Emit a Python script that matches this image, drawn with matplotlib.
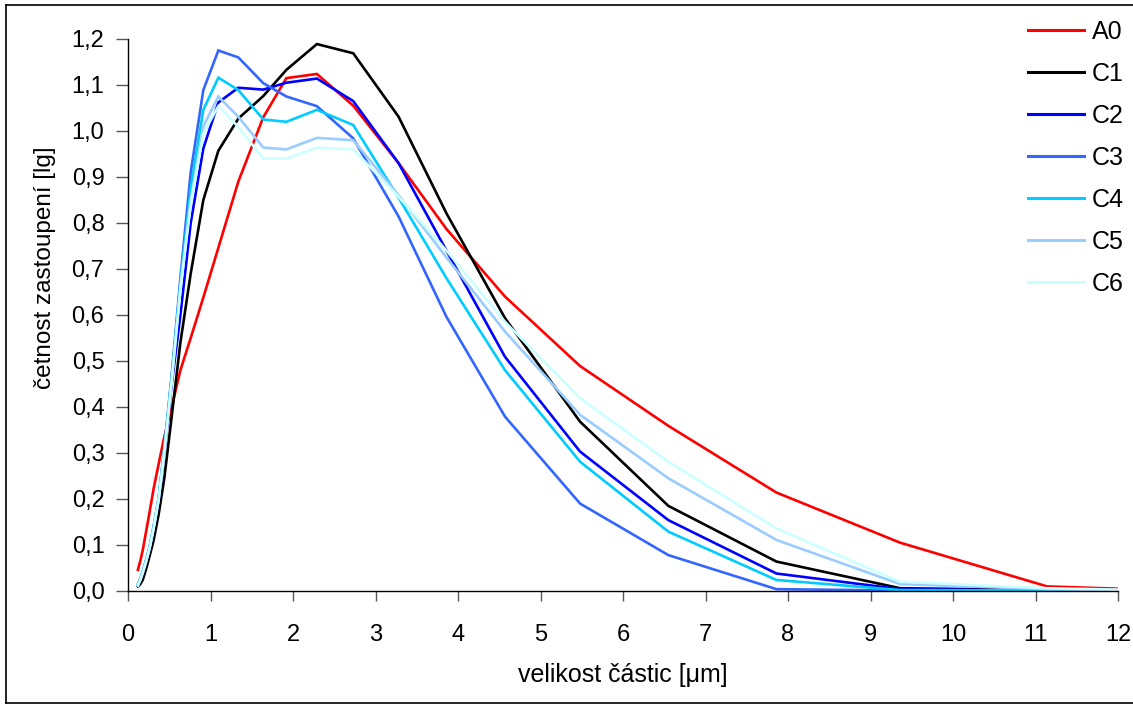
import matplotlib
matplotlib.use("Agg")
import matplotlib.pyplot as plt
from matplotlib.ticker import FuncFormatter, MultipleLocator
from matplotlib.lines import Line2D

plt.rcParams['font.family'] = ['Liberation Sans', 'DejaVu Sans']

# === Data ===
size_um = [0.12, 0.15, 0.18, 0.215, 0.26, 0.31, 0.37, 0.44, 0.53, 0.635, 0.76, 0.913,
           1.095, 1.337, 1.64, 1.92, 2.29, 2.73, 3.28, 3.86, 4.57, 5.48, 6.55, 7.86,
           9.36, 11.14, 12.0]

a0 = [0.046, 0.066, 0.09, 0.125, 0.17, 0.222, 0.275, 0.335, 0.40, 0.48, 0.55, 0.638,
      0.746, 0.89, 1.03, 1.115, 1.124, 1.055, 0.93, 0.787, 0.64, 0.489, 0.359, 0.214,
      0.105, 0.01, 0.005]
c1 = [0.01, 0.015, 0.025, 0.045, 0.075, 0.11, 0.165, 0.245, 0.38, 0.54, 0.69, 0.85,
      0.957, 1.027, 1.076, 1.133, 1.189, 1.169, 1.031, 0.821, 0.593, 0.368, 0.185, 0.064,
      0.006, 0.002, 0.001]
c2 = [0.013, 0.025, 0.04, 0.06, 0.09, 0.135, 0.195, 0.30, 0.45, 0.60, 0.80, 0.962,
      1.062, 1.094, 1.09, 1.105, 1.114, 1.065, 0.93, 0.74, 0.509, 0.303, 0.154, 0.038,
      0.004, 0.001, 0.0]
c3 = [0.015, 0.027, 0.043, 0.065, 0.095, 0.14, 0.2, 0.31, 0.47, 0.68, 0.91, 1.089,
      1.175, 1.16, 1.104, 1.075, 1.054, 0.984, 0.814, 0.596, 0.379, 0.19, 0.078, 0.004,
      0.001, 0.0, 0.0]
c4 = [0.014, 0.026, 0.042, 0.063, 0.093, 0.138, 0.2, 0.31, 0.465, 0.67, 0.875, 1.046,
      1.116, 1.089, 1.025, 1.02, 1.046, 1.013, 0.855, 0.68, 0.48, 0.281, 0.129, 0.024,
      0.002, 0.001, 0.0]
c5 = [0.013, 0.025, 0.041, 0.062, 0.092, 0.136, 0.198, 0.305, 0.46, 0.66, 0.85, 1.01,
      1.075, 1.031, 0.964, 0.96, 0.985, 0.98, 0.86, 0.725, 0.564, 0.383, 0.245, 0.111,
      0.015, 0.004, 0.002]
c6 = [0.012, 0.024, 0.04, 0.061, 0.091, 0.135, 0.196, 0.30, 0.455, 0.655, 0.84, 0.995,
      1.054, 1.009, 0.94, 0.94, 0.964, 0.96, 0.857, 0.74, 0.585, 0.419, 0.281, 0.136,
      0.02, 0.006, 0.003]

labels = ["A0", "C1", "C2", "C3", "C4", "C5", "C6"]
series = [a0, c1, c2, c3, c4, c5, c6]
colors = ["#FF0000", "#000000", "#0000FF", "#3366FF", "#00CCFF", "#99CCFF", "#CCFFFF"]

W, H = 1133, 709
fig = plt.figure(figsize=(W / 100, H / 100), dpi=100)
ax = fig.add_axes([128 / W, 1 - 591 / H, (1118 - 128) / W, (591 - 39) / H])

for ys, col, lab in zip(series, colors, labels):
    ax.plot(size_um, ys, color=col, lw=1.9, label=lab, solid_joinstyle='miter')

ax.set_xlim(0, 12)
ax.set_ylim(0, 1.2)
ax.xaxis.set_major_locator(MultipleLocator(1))
ax.yaxis.set_major_locator(MultipleLocator(0.1))
ax.yaxis.set_major_formatter(FuncFormatter(lambda v, p: f"{v:.1f}".replace('.', ',')))

for side in ("top", "right"):
    ax.spines[side].set_visible(False)
for side in ("left", "bottom"):
    ax.spines[side].set_linewidth(1.0)
    ax.spines[side].set_color("#000000")

ax.tick_params(axis='x', direction='out', length=7, width=1, color='#555555',
               labelsize=17, pad=17)
ax.tick_params(axis='y', direction='out', length=9, width=1, color='#555555',
               labelsize=17, pad=8)

ax.set_xlabel("velikost částic [μm]", fontsize=18, labelpad=12)
fig.text(45 / W, 1 - 268 / H, "četnost zastoupení [lg]", rotation=90,
         ha='center', va='center', fontsize=17.5)

handles = [Line2D([], [], color=c, lw=2.2) for c in colors]
fig.legend(handles, labels, loc='upper left', frameon=False, fontsize=18,
           bbox_to_anchor=(1028 / W, 1 - 20 / H), borderpad=0, borderaxespad=0,
           handlelength=2.25, handletextpad=0.3, labelspacing=0.72)

# figure border
fig.add_artist(Line2D([6 / W, 6 / W], [1 - 5 / H, 1 - 703 / H], color='black', lw=1.2))
fig.add_artist(Line2D([6 / W, 1.0], [1 - 5 / H, 1 - 5 / H], color='black', lw=1.2))
fig.add_artist(Line2D([6 / W, 1.0], [1 - 703 / H, 1 - 703 / H], color='black', lw=1.2))

fig.savefig("out.png", dpi=100)
